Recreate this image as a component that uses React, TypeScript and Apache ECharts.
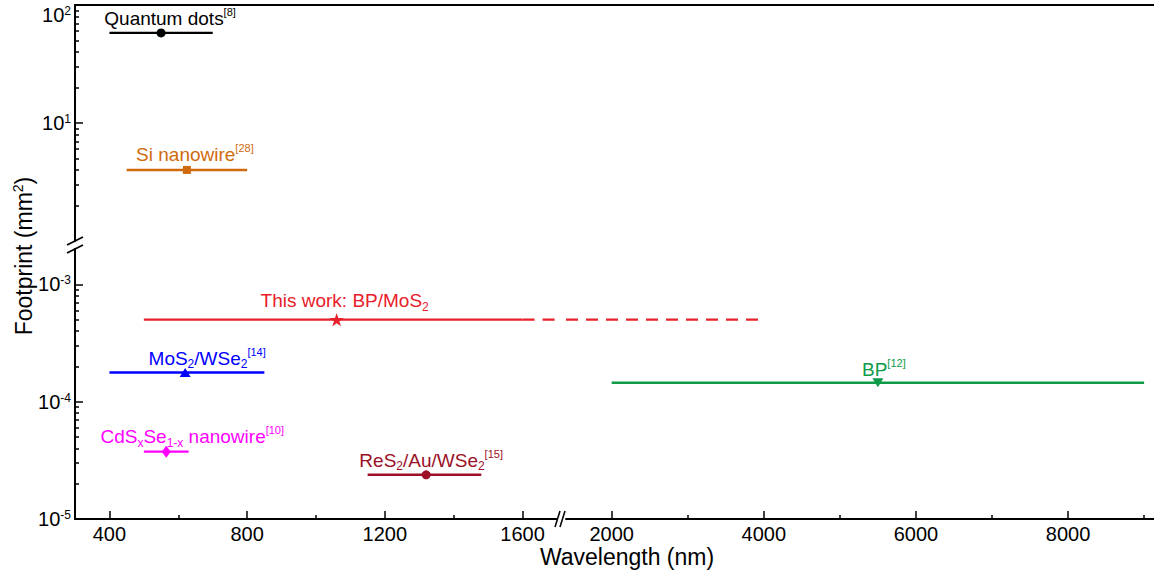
import React, { useEffect, useRef } from 'react';
import * as echarts from 'echarts';

// ---------- data ----------
const materials = [
  'Quantum dots',
  'Si nanowire',
  'This work: BP/MoS2',
  'MoS2/WSe2',
  'BP',
  'CdSxSe1-x nanowire',
  'ReS2/Au/WSe2',
];
const labelTexts = [
  '{t|Quantum dots}{sup|[8]}',
  '{t|Si nanowire}{sup|[28]}',
  '{t|This work: BP/MoS}{sub|2}',
  '{t|MoS}{sub|2}{t|/WSe}{sub|2}{sup|[14]}',
  '{t|BP}{sup|[12]}',
  '{t|CdS}{sub|x}{t|Se}{sub|1-x}{t| nanowire}{sup|[10]}',
  '{t|ReS}{sub|2}{t|/Au/WSe}{sub|2}{sup|[15]}',
];
const wavelengthMin = [400, 450, 500, 400, 2000, 500, 1150];
const wavelengthMax = [700, 800, 1600, 850, 9000, 630, 1480];
const wavelengthExtendedMax: (number | null)[] = [null, null, 4000, null, null, null, null];
const wavelengthMarker = [550, 625, 1060, 620, 5500, 565, 1320];
const footprint = [58, 4, 5e-4, 1.77e-4, 1.45e-4, 3.75e-5, 2.38e-5];

// tick values
const xLeftTicks = [400, 800, 1200, 1600];
const xLeftMinorTicks = [600, 1000, 1400];
const xRightTicks = [2000, 4000, 6000, 8000];
const xRightMinorTicks = [3000, 5000, 7000, 9000];
const yTopTicks = [10, 100];
const yTopLabelMiddle = [10];
const yTopLabelTop = [100];
const yBottomTicks = [1e-5, 1e-4, 1e-3];
const minorMultipliers = [2, 3, 4, 5, 6, 7, 8, 9];
const yTopDecades = [1, 10];
const yBottomDecades = [1e-5, 1e-4];

// axis ranges (broken axes)
const xLeftRange = [300, 1700];
const xRightRange = [1400, 9130];
const yTopRange = [1, 100];
const yBottomRange = [1e-5, 2e-3];

// ---------- styles ----------
const FONT = '"Liberation Sans", Arial, Helvetica, sans-serif';
const colors = ['#000000', '#D06A0E', '#E8202A', '#0000FF', '#0D9B48', '#FF00FF', '#9B1027'];
const STAR =
  'path://M0,-10 L2.245,-3.09 L9.511,-3.09 L3.633,1.18 L5.878,8.09 L0,3.82 L-5.878,8.09 L-3.633,1.18 L-9.511,-3.09 L-2.245,-3.09 Z';
const symbols = ['circle', 'rect', STAR, 'triangle', 'triangle', 'diamond', 'circle'];
const symbolSizes: any[] = [9, 8, 14, [11, 9], [11, 9], [9, 12], 9];
const symbolRotations = [0, 0, 0, 0, 180, 0, 0];
const labelDx = [9, 8, 8, 22, 6, 26, 5];
const labelDy = [0, -1, -2, 0, 1, 1, 0];

function buildOption() {
  const minorOf = (decades: number[]) =>
    decades.flatMap((d) => minorMultipliers.map((m) => m * d));

  const axisLine = { show: true, onZero: false, lineStyle: { color: '#000', width: 2 } };
  const hiddenLine = { show: false, onZero: false };

  const xMajor = (gridIndex: number, range: number[], ticks: number[]) => ({
    type: 'value',
    gridIndex,
    position: 'bottom',
    min: range[0],
    max: range[1],
    axisLine,
    axisTick: { show: true, inside: true, length: 8, lineStyle: { color: '#000', width: 1.5 }, customValues: ticks },
    axisLabel: {
      show: true,
      customValues: ticks,
      formatter: (v: number) => String(v),
      fontSize: 20,
      color: '#000',
      fontFamily: FONT,
      margin: 5,
    },
    splitLine: { show: false },
  });
  const xMinor = (gridIndex: number, range: number[], ticks: number[]) => ({
    type: 'value',
    gridIndex,
    position: 'bottom',
    min: range[0],
    max: range[1],
    axisLine: hiddenLine,
    axisTick: { show: true, inside: true, length: 4, lineStyle: { color: '#000', width: 1.5 }, customValues: ticks },
    axisLabel: { show: false },
    splitLine: { show: false },
  });

  const yLabelFmt = (v: number) => `{b|10}{s|${Math.round(Math.log10(v))}}`;
  const yRich = {
    b: { fontSize: 20, lineHeight: 20, color: '#000', fontFamily: FONT },
    s: { fontSize: 12, lineHeight: 10, verticalAlign: 'top', color: '#000', fontFamily: FONT },
  };
  const yLog = (gridIndex: number, range: number[], extra: any) => ({
    type: 'log',
    logBase: 10,
    gridIndex,
    position: 'left',
    min: range[0],
    max: range[1],
    splitLine: { show: false },
    ...extra,
  });

  const xAxis = [
    { type: 'value', gridIndex: 0, min: xLeftRange[0], max: xLeftRange[1], show: false },
    xMajor(1, xLeftRange, xLeftTicks),
    xMinor(1, xLeftRange, xLeftMinorTicks),
    xMajor(2, xRightRange, xRightTicks),
    xMinor(2, xRightRange, xRightMinorTicks),
    {
      type: 'value',
      gridIndex: 3,
      position: 'top',
      min: 0,
      max: 1,
      axisLine,
      axisTick: { show: false },
      axisLabel: { show: false },
      splitLine: { show: false },
    },
  ];

  const yAxis = [
    yLog(0, yTopRange, {
      axisLine,
      axisTick: { show: true, inside: true, length: 8, lineStyle: { color: '#000', width: 1.5 }, customValues: yTopTicks },
      axisLabel: { show: true, customValues: yTopLabelMiddle, formatter: yLabelFmt, rich: yRich, margin: 4, align: 'right' },
    }),
    yLog(0, yTopRange, {
      axisLine: hiddenLine,
      axisTick: { show: false },
      axisLabel: {
        show: true,
        customValues: yTopLabelTop,
        formatter: yLabelFmt,
        rich: yRich,
        margin: 4,
        verticalAlign: 'top',
        align: 'right',
      },
    }),
    yLog(0, yTopRange, {
      axisLine: hiddenLine,
      axisTick: { show: true, inside: true, length: 4, lineStyle: { color: '#000', width: 1.5 }, customValues: minorOf(yTopDecades) },
      axisLabel: { show: false },
    }),
    yLog(1, yBottomRange, {
      axisLine,
      axisTick: { show: true, inside: true, length: 8, lineStyle: { color: '#000', width: 1.5 }, customValues: yBottomTicks },
      axisLabel: { show: true, customValues: yBottomTicks, formatter: yLabelFmt, rich: yRich, margin: 4, align: 'right' },
    }),
    yLog(1, yBottomRange, {
      axisLine: hiddenLine,
      axisTick: { show: true, inside: true, length: 4, lineStyle: { color: '#000', width: 1.5 }, customValues: minorOf(yBottomDecades) },
      axisLabel: { show: false },
    }),
    yLog(2, yBottomRange, { show: false }),
    { type: 'value', gridIndex: 3, min: 0, max: 1, show: false },
  ];

  const axesFor = (sect: string, seg: string) =>
    sect === 'top'
      ? { xAxisIndex: 0, yAxisIndex: 0 }
      : seg === 'left'
      ? { xAxisIndex: 1, yAxisIndex: 3 }
      : { xAxisIndex: 3, yAxisIndex: 5 };

  const lines: any[] = [];
  const markers: any[] = [];
  materials.forEach((name, i) => {
    const y = footprint[i];
    const color = colors[i];
    const sect = y >= yTopRange[0] ? 'top' : 'bottom';
    const lineSeg = wavelengthMin[i] >= xLeftRange[1] ? 'right' : 'left';
    lines.push({
      type: 'line',
      name,
      ...axesFor(sect, lineSeg),
      data: [
        [wavelengthMin[i], y],
        [wavelengthMax[i], y],
      ],
      symbol: 'none',
      lineStyle: { color, width: 2.4, opacity: 1 },
      silent: true,
      z: 2,
    });
    const ext = wavelengthExtendedMax[i];
    if (ext != null) {
      const dashed = {
        type: 'line',
        symbol: 'none',
        lineStyle: { color, width: 2.4, type: [12, 8], opacity: 1 },
        silent: true,
        z: 2,
      };
      lines.push({
        ...dashed,
        name: name + ' (extended)',
        ...axesFor(sect, 'left'),
        data: [
          [wavelengthMax[i], y],
          [xLeftRange[1], y],
        ],
      });
      lines.push({
        ...dashed,
        name: name + ' (extended, right)',
        ...axesFor(sect, 'right'),
        data: [
          [xRightRange[0], y],
          [ext, y],
        ],
      });
    }
    const markSeg = wavelengthMarker[i] >= xLeftRange[1] ? 'right' : 'left';
    markers.push({
      type: 'scatter',
      name: name + ' marker',
      ...axesFor(sect, markSeg),
      data: [[wavelengthMarker[i], y]],
      symbol: symbols[i],
      symbolSize: symbolSizes[i],
      symbolRotate: symbolRotations[i],
      symbolKeepAspect: true,
      itemStyle: { color, opacity: 1 },
      z: 3,
      silent: true,
      label: {
        show: true,
        position: 'top',
        distance: -2,
        offset: [labelDx[i], labelDy[i]],
        formatter: labelTexts[i],
        color,
        opacity: 1,
        fontFamily: FONT,
        rich: {
          t: { fontSize: 19, lineHeight: 24, color, fontFamily: FONT, opacity: 1 },
          sup: { fontSize: 11, lineHeight: 12, verticalAlign: 'top', color, fontFamily: FONT, opacity: 1 },
          sub: { fontSize: 12, lineHeight: 12, verticalAlign: 'bottom', color, fontFamily: FONT, opacity: 1 },
        },
      },
    });
  });

  const breakLine = (x1: number, y1: number, x2: number, y2: number) => ({
    type: 'line',
    shape: { x1, y1, x2, y2 },
    style: { stroke: '#000', lineWidth: 1.6 },
    z: 100,
  });

  return {
    animation: false,
    backgroundColor: '#ffffff',
    grid: [
      { left: 75, width: 482, top: 5, height: 236, outerBoundsMode: 'none', containLabel: false },
      { left: 75, width: 482, top: 249, height: 270, outerBoundsMode: 'none', containLabel: false },
      { left: 566, width: 588, top: 249, height: 270, outerBoundsMode: 'none', containLabel: false },
      { left: 75, width: 1079, top: 5, height: 514, outerBoundsMode: 'none', containLabel: false },
    ],
    xAxis,
    yAxis,
    series: [...lines, ...markers],
    graphic: [
      breakLine(67, 245, 83, 237),
      breakLine(67, 253, 83, 245),
      breakLine(555, 527, 560, 511),
      breakLine(560, 527, 565, 511),
      {
        type: 'text',
        x: 627,
        y: 557,
        style: {
          text: 'Wavelength (nm)',
          fill: '#000',
          font: `23px ${FONT}`,
          align: 'center',
          verticalAlign: 'middle',
        },
      },
      {
        type: 'text',
        x: 24,
        y: 256,
        rotation: Math.PI / 2,
        style: {
          text: '{a|Footprint (mm}{s|2}{a|)}',
          fill: '#000',
          align: 'center',
          verticalAlign: 'middle',
          rich: {
            a: { fontSize: 23, lineHeight: 26, fontFamily: FONT, fill: '#000' },
            s: { fontSize: 14, lineHeight: 14, verticalAlign: 'top', fontFamily: FONT, fill: '#000' },
          },
        },
      },
    ],
  };
}

export default function App() {
  const ref = useRef<HTMLDivElement>(null);
  useEffect(() => {
    if (!ref.current) return;
    const chart = echarts.init(ref.current, null, { renderer: 'svg' });
    chart.setOption(buildOption() as any);
    return () => chart.dispose();
  }, []);
  return (
    <div
      ref={ref}
      style={{ position: 'fixed', left: 0, top: 0, width: 1154, height: 575, background: '#fff' }}
    />
  );
}
